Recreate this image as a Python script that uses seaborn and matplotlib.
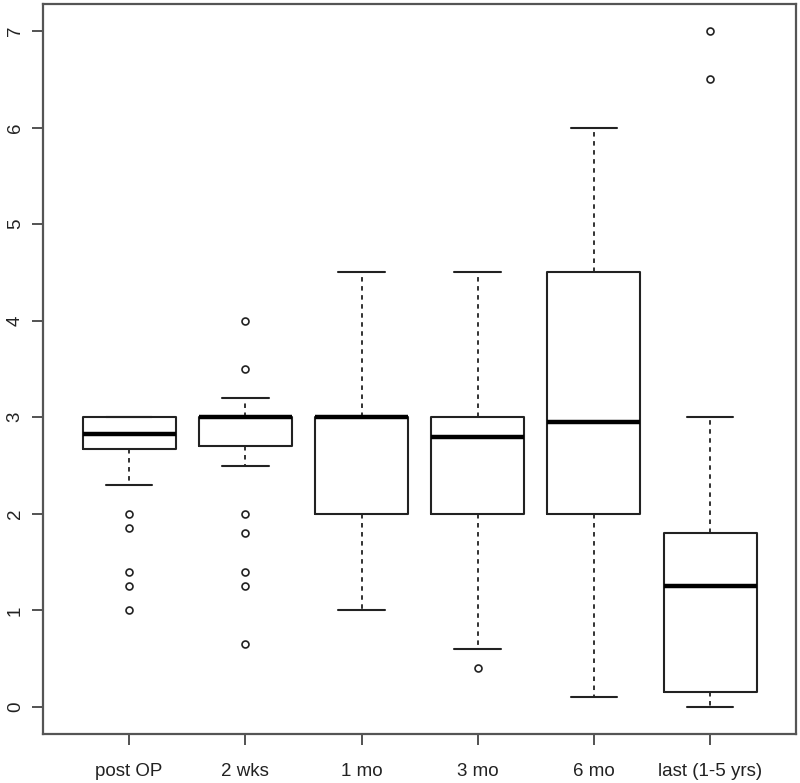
import matplotlib
matplotlib.use("Agg")
import matplotlib.pyplot as plt
import seaborn as sns

# summary values
groups = ['post OP', '2 wks', '1 mo', '3 mo', '6 mo', 'last (1-5 yrs)']
q1 = [2.67, 2.7, 2.0, 2.0, 2.0, 0.15]
median = [2.83, 3.0, 3.0, 2.8, 2.95, 1.25]
q3 = [3.0, 3.0, 3.0, 3.0, 4.5, 1.8]
whisker_lo = [2.3, 2.5, 1.0, 0.6, 0.1, 0.0]
whisker_hi = [3.0, 3.2, 4.5, 4.5, 6.0, 3.0]
outliers = [
    [2.0, 1.85, 1.4, 1.25, 1.0],
    [4.0, 3.5, 2.0, 1.8, 1.4, 1.25, 0.65],
    [],
    [0.4],
    [],
    [7.0, 6.5],
]
y_ticks = [0, 1, 2, 3, 4, 5, 6, 7]

sns.set_style("white")
plt.rcParams['font.family'] = ['Liberation Sans', 'DejaVu Sans']

stats = []
for i, g in enumerate(groups):
    stats.append({
        'label': g, 'q1': q1[i], 'med': median[i], 'q3': q3[i],
        'whislo': whisker_lo[i], 'whishi': whisker_hi[i], 'fliers': outliers[i],
    })

fig = plt.figure(figsize=(8, 7.83), dpi=100)
ax = fig.add_axes([0.054, 0.0626, 0.941, 0.9323])

line_col = '#222222'
ax.bxp(
    stats, positions=range(1, len(groups) + 1), widths=0.8,
    showfliers=True,
    boxprops=dict(color=line_col, linewidth=1.5),
    medianprops=dict(color='black', linewidth=3.2, solid_capstyle='butt'),
    whiskerprops=dict(color=line_col, linewidth=1.3, linestyle=(0, (2.5, 2.5))),
    capprops=dict(color=line_col, linewidth=1.5),
    capwidths=0.4,
    flierprops=dict(marker='o', markersize=5, markerfacecolor='none',
                    markeredgecolor=line_col, markeredgewidth=1.2, linestyle='none'),
)

ax.set_xlim(0.26, 6.74)
ax.set_ylim(-0.28, 7.28)
ax.set_yticks(y_ticks)
ax.set_yticklabels([str(t) for t in y_ticks])
ax.set_xticks(range(1, len(groups) + 1))
ax.set_xticklabels(groups)

for s in ax.spines.values():
    s.set_color('#555555')
    s.set_linewidth(1.6)
    s.set_visible(True)

ax.tick_params(axis='both', direction='out', length=8, width=1.3, color='#444444',
               labelsize=13.5, labelcolor='#222222', bottom=True, left=True)
ax.tick_params(axis='y', pad=6, labelrotation=90)
ax.tick_params(axis='x', pad=13)
for lab in ax.get_yticklabels():
    lab.set_va('center')

plt.savefig('out.png', dpi=100)
